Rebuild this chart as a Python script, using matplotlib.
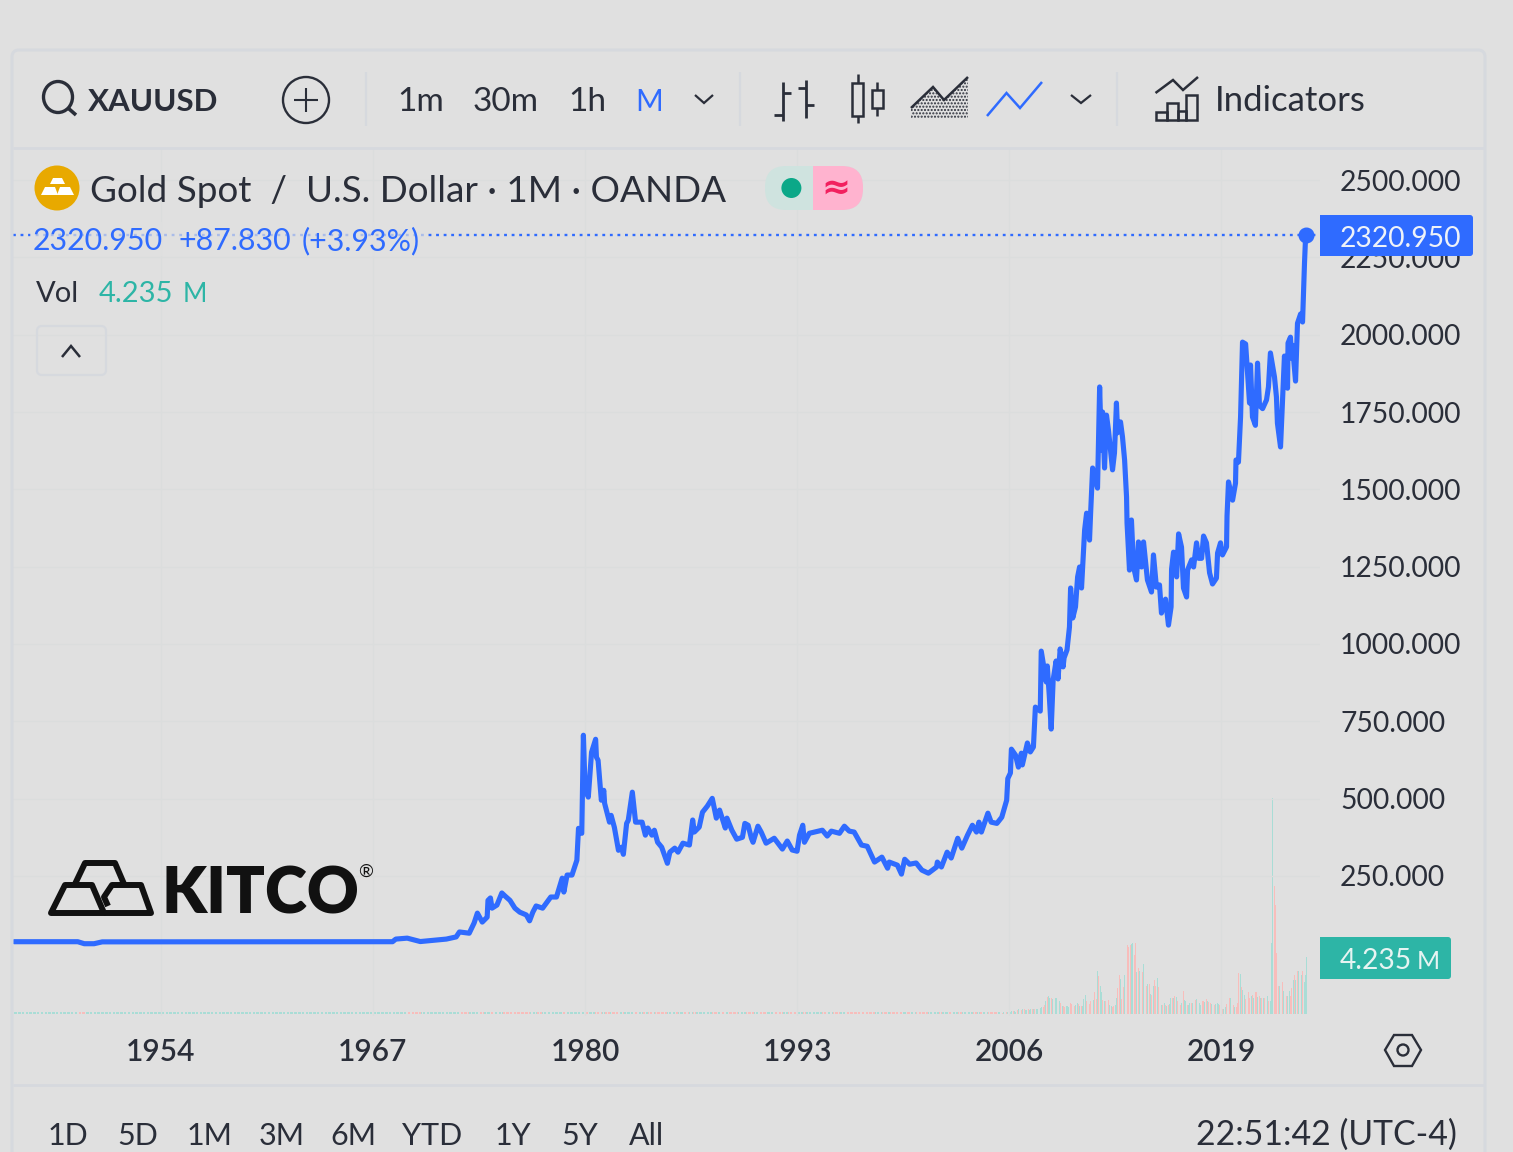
import numpy as np
import matplotlib
matplotlib.use("Agg")
import matplotlib.pyplot as plt
from matplotlib.patches import Polygon, Rectangle, FancyBboxPatch, Ellipse

plt.rcParams['font.family'] = ['Lato', 'DejaVu Sans']

# ---------- data ----------
price_years = [
    1945, 1948.9, 1949.3, 1949.9, 1950.4, 1968.2, 1968.4, 1969.1, 1969.9, 1971.5, 1972.1, 1972.3, 1972.9,
    1973.2, 1973.4, 1973.7, 1974.0, 1974.05, 1974.2, 1974.3, 1974.6, 1974.9, 1975.1, 1975.4, 1975.7, 1976.0,
    1976.4, 1976.6, 1976.8, 1977.0, 1977.4, 1977.9, 1978.25, 1978.6, 1978.7, 1978.9, 1979.2, 1979.5, 1979.6,
    1979.8, 1979.9, 1980.0, 1980.2, 1980.4, 1980.65, 1980.7, 1980.8, 1981.0, 1981.15, 1981.2, 1981.5, 1981.6,
    1981.8, 1982.05, 1982.25, 1982.35, 1982.55, 1982.65, 1982.9, 1983.1, 1983.5, 1983.7, 1983.85, 1984.1,
    1984.25, 1984.45, 1984.7, 1985.05, 1985.2, 1985.5, 1985.7, 1986.0, 1986.4, 1986.6, 1986.7, 1987.0, 1987.2,
    1987.5, 1987.8, 1988.05, 1988.25, 1988.6, 1988.7, 1989.0, 1989.3, 1989.65, 1989.8, 1990.0, 1990.2, 1990.3,
    1990.6, 1990.8, 1991.1, 1991.6, 1992.1, 1992.4, 1992.7, 1993.0, 1993.15, 1993.35, 1993.45, 1993.75, 1994.55,
    1994.85, 1995.1, 1995.6, 1995.9, 1996.2, 1996.5, 1996.95, 1997.3, 1997.75, 1998.2, 1998.55, 1998.65, 1999.15,
    1999.4, 1999.6, 1999.9, 2000.3, 2000.65, 2001.05, 2001.55, 2001.6, 2001.85, 2002.2, 2002.45, 2002.85, 2003.1,
    2003.45, 2003.75, 2004.0, 2004.15, 2004.3, 2004.7, 2004.9, 2005.25, 2005.55, 2005.85, 2005.92, 2006.08, 2006.14,
    2006.39, 2006.57, 2006.75, 2006.81, 2007.12, 2007.3, 2007.49, 2007.61, 2007.91, 2007.97, 2008.28, 2008.34,
    2008.46, 2008.58, 2008.7, 2008.88, 2009.0, 2009.13, 2009.31, 2009.37, 2009.55, 2009.7, 2009.77, 2009.9,
    2010.07, 2010.2, 2010.32, 2010.44, 2010.63, 2010.75, 2010.93, 2011.0, 2011.12, 2011.42, 2011.55, 2011.66,
    2011.73, 2011.85, 2011.97, 2012.09, 2012.34, 2012.46, 2012.58, 2012.65, 2012.83, 2012.95, 2013.08, 2013.2,
    2013.23, 2013.38, 2013.5, 2013.63, 2013.81, 2013.93, 2014.12, 2014.24, 2014.48, 2014.73, 2014.85, 2015.03,
    2015.22, 2015.34, 2015.59, 2015.77, 2015.93, 2015.96, 2016.08, 2016.27, 2016.39, 2016.57, 2016.69, 2016.88,
    2016.94, 2017.19, 2017.31, 2017.49, 2017.62, 2017.8, 2017.92, 2018.1, 2018.29, 2018.47, 2018.71, 2018.78,
    2018.96, 2019.08, 2019.33, 2019.36, 2019.45, 2019.7, 2019.88, 2019.91, 2020.06, 2020.19, 2020.31, 2020.5,
    2020.74, 2020.8, 2020.92, 2021.1, 2021.23, 2021.35, 2021.54, 2021.78, 2021.9, 2022.02, 2022.27, 2022.39,
    2022.45, 2022.64, 2022.88, 2023.07, 2023.1, 2023.25, 2023.31, 2023.37, 2023.56, 2023.68, 2023.87, 2023.99,
    2024.11, 2024.18]
price_values = [
    37.5, 37.5, 31, 31, 37, 37.5, 46, 49, 38, 46, 53, 69, 65,
    98, 130, 101, 117, 171, 179, 146, 156, 195, 185, 171, 146, 133,
    124, 105, 133, 153, 146, 182, 182, 243, 198, 253, 253, 301, 404,
    388, 705, 537, 505, 650, 692, 634, 624, 495, 527, 485, 424, 446,
    407, 333, 343, 320, 420, 430, 521, 424, 424, 382, 405, 382,
    398, 359, 343, 291, 327, 340, 327, 356, 350, 431, 392, 408, 456,
    476, 501, 437, 463, 405, 437, 398, 369, 375, 420, 414, 372, 359,
    411, 392, 356, 372, 337, 363, 334, 330, 382, 414, 359, 388, 398,
    379, 395, 388, 411, 395, 392, 350, 346, 295, 311, 275, 295, 285,
    256, 304, 288, 292, 269, 259, 279, 295, 279, 327, 308, 372, 340,
    382, 414, 392, 424, 392, 453, 424, 420, 440, 495, 565, 583, 660,
    641, 602, 647, 609, 680, 651, 667, 796, 783, 977, 877,
    929, 835, 725, 884, 945, 887, 984, 926, 955, 981, 1055, 1181, 1084,
    1120, 1217, 1249, 1181, 1369, 1423, 1336, 1427, 1569, 1504, 1831, 1627,
    1750, 1569, 1740, 1692, 1563, 1618, 1779, 1683, 1718, 1670, 1595, 1475,
    1391, 1239, 1401, 1249, 1207, 1330, 1249, 1330, 1207, 1168, 1288, 1184,
    1191, 1100, 1145, 1061, 1120, 1242, 1297, 1217, 1356, 1313, 1181, 1152,
    1239, 1272, 1249, 1327, 1277, 1277, 1349, 1327, 1230, 1194, 1213, 1294,
    1327, 1288, 1314, 1414, 1524, 1465, 1520, 1595, 1588, 1734, 1976, 1970,
    1779, 1902, 1734, 1707, 1908, 1771, 1761, 1789, 1831, 1941, 1863, 1798,
    1714, 1637, 1931, 1827, 1973, 1992, 1924, 1966, 1850, 2037, 2067, 2041,
    2232, 2320.95]

volume_millions = [
    .12, .1, .1, .12, .12, .15, .15, .12, .15, .2,
    .2, .2, .15, .3, .35, .35, .3, .35, .35, .3,
    .3, .35, .3, .35, .4, .4, .35, .4, .4, .42,
    .45, .5, .55, .7, 1.0, 1.25, 1.35, 1.2, 1.15, 1.1,
    1.2, 1.15, 1.2, .9, .95, .8, .6, .6, .55, .6,
    .6, .55, .8, .75, .75, .6, .7, .85, .75, .6,
    .6, .6, 1.1, 1.4, 1.0, .85, .75, 1.0, 1.1, 1.05,
    1.65, 1.1, 3.2, 2.85, 2.1, 1.6, 1.05, .95, 1.0, .6,
    1.05, .7, .6, .55, .62, .65, 1.15, 1.95, 2.9, 2.6,
    1.1, 2.0, 2.9, 2.6, 5.1, 5.0, 5.1, 5.2, 5.25, 4.4,
    5.25, 3.1, 3.4, 3.2, 2.85, 3.1, 3.7, 2.2, 2.1, 2.2,
    2.2, 1.5, 1.4, 2.05, 2.55, 2.1, 2.7, 2.0, .8, .7,
    .65, .8, .65, .6, .65, .75, 1.2, 1.15, 1.2, 1.3,
    1.25, 1.0, .85, .7, .85, 1.7, 1.05, .95, .7, .65,
    .8, .85, .8, .7, 1.05, 1.1, .85, .8, .7, 1.0,
    1.0, .9, 1.1, .95, .9, .85, .75, .75, .65, .75,
    .85, .75, .65, .4, .35, .4, .55, .75, .7, 1.2,
    1.2, .95, .65, .55, .5, .85, 3.05, 2.95, 2.0, 1.75,
    1.4, 1.1, 2.15, 1.65, 1.2, 1.3, 1.4, 1.15, 1.6, 1.65,
    1.25, 1.3, 1.15, 1.2, 1.15, 1.2, 1.1, 1.3, 1.0, .95,
    5.3, 16.0, 9.5, 8.1, 4.5, 2.1, 2.05, 2.3, 2.35, 1.7,
    1.7, 1.35, 1.3, 1.7, 1.35, 1.95, 2.5, 2.9, 2.5, 3.2,
    3.2, 3.2, 2.9, 3.2, 2.4, 2.9, 4.235]
volume_up = [
    1, 1, 0, 1, 1, 0, 1, 0, 1, 1,
    0, 1, 1, 0, 1, 1, 0, 1, 0, 1,
    1, 0, 1, 1, 0, 1, 0, 1, 1, 0,
    1, 1, 0, 0, 1, 0, 1, 1, 0, 1,
    0, 1, 1, 0, 1, 0, 1, 0, 0, 1,
    1, 1, 0, 0, 1, 0, 1, 1, 0, 1,
    0, 1, 1, 1, 0, 1, 0, 0, 1, 1,
    0, 0, 1, 0, 1, 1, 0, 1, 0, 0,
    0, 1, 1, 0, 0, 1, 1, 0, 0, 1,
    0, 0, 1, 0, 0, 0, 0, 1, 1, 0,
    0, 1, 0, 1, 1, 0, 1, 1, 0, 1,
    0, 1, 0, 1, 0, 0, 1, 0, 0, 1,
    0, 1, 0, 1, 0, 1, 1, 0, 1, 0,
    1, 0, 1, 0, 1, 0, 1, 1, 0, 1,
    1, 0, 1, 1, 0, 1, 0, 1, 1, 0,
    0, 1, 0, 1, 0, 0, 1, 0, 0, 1,
    1, 1, 0, 0, 0, 1, 1, 0, 1, 0,
    1, 1, 0, 1, 0, 0, 0, 1, 0, 1,
    1, 0, 1, 0, 0, 1, 0, 1, 0, 0,
    1, 0, 1, 0, 1, 0, 0, 1, 0, 1,
    1, 1, 0, 0, 0, 0, 1, 0, 0, 1,
    1, 0, 1, 1, 0, 0, 1, 0, 1, 0,
    1, 0, 1, 0, 1, 1, 1]
early_volume_million = 0.13
last_volume_year = 2024.25

year_ticks = [1954, 1967, 1980, 1993, 2006, 2019]
price_ticks = [250, 500, 750, 1000, 1250, 1500, 1750, 2000, 2250, 2500]
price_labels = ['250.000', '500.000', '750.000', '1000.000', '1250.000', '1500.000',
                '1750.000', '2000.000', '2250.000', '2500.000']
last_price = 2320.95
range_buttons = ['1D', '5D', '1M', '3M', '6M', 'YTD', '1Y', '5Y', 'All']
range_x = [48, 117, 187, 259, 330, 402, 495, 561, 629]

# ---------- colours ----------
BG = '#e0e0e0'
INK = '#2a2e39'
BLUE = '#2f6bff'
TEAL = '#2db5a6'
BORDER = '#d6d9de'
GRID = '#dbdddd'
VOL_UP = '#a9ddd6'
VOL_DOWN = '#f8bdbb'

W, H = 1513, 1152
fig = plt.figure(figsize=(W / 100, H / 100), dpi=100, facecolor=BG)

# main chart axes: pixels 13..1320 horizontally, 148..1016 vertically
pos = [13 / W, 1 - 1016 / H, (1320 - 13) / W, (1016 - 148) / H]
ax_vol = fig.add_axes(pos, facecolor=BG)
ax = fig.add_axes(pos, facecolor='none')
ax_vol.set_zorder(1)
ax.set_zorder(2)

x_left, x_right = 1944.93, 2025.06
ax.set_xlim(x_left, x_right)
ax.set_ylim(-202.7, 2603.6)
ax_vol.set_xlim(x_left, x_right)
ax_vol.set_ylim(-0.15, 64.3)
ax_vol.set_xticks([])
ax_vol.set_yticks([])

for a in (ax, ax_vol):
    for s in a.spines.values():
        s.set_visible(False)

ax.set_xticks(year_ticks)
ax.set_xticklabels([str(y) for y in year_ticks], fontsize=21.5, color=INK, fontweight='semibold')
ax.tick_params(axis='x', length=0, pad=15.5)
ax.yaxis.tick_right()
ax.set_yticks(price_ticks)
ax.set_yticklabels(price_labels, fontsize=20.3, color=INK)
ax.tick_params(axis='y', length=0, pad=14.4)
ax.grid(True, color=GRID, lw=1)
ax.set_axisbelow(True)

# volume: one bar a month, counted back from the last month
vol_years = last_volume_year - np.arange(len(volume_millions) - 1, -1, -1) / 12
vol_colors = [VOL_UP if u else VOL_DOWN for u in volume_up]
ax_vol.bar(vol_years, volume_millions, width=0.055, color=vol_colors, lw=0)

early_years = np.arange(1945, vol_years[0], 1 / 12)
early_prices = np.interp(early_years, price_years, price_values)
early_colors = [VOL_DOWN if d < 0 else VOL_UP for d in np.diff(early_prices, prepend=early_prices[0])]
ax_vol.bar(early_years, early_volume_million, width=0.055, color=early_colors, lw=0)

# price
ax.plot(price_years, price_values, color=BLUE, lw=3.7, solid_joinstyle='round', solid_capstyle='round', zorder=4)
ax.axhline(last_price, color=BLUE, lw=1.7, dashes=(1.2, 2.0), zorder=3)
ax.plot(price_years[-1:], price_values[-1:], 'o', color=BLUE, ms=10.5, zorder=5)

# overlay in pixel coordinates for the widget's chrome
ui = fig.add_axes([0, 0, 1, 1], facecolor='none')
ui.set_zorder(5)
ui.set_xlim(0, W)
ui.set_ylim(H, 0)
ui.axis('off')


def T(x, y, s, size, color=INK, ha='left', weight='normal', **kw):
    ui.text(x, y, s, fontsize=size, color=color, ha=ha, va='baseline', fontweight=weight, **kw)


def L(xs, ys, color=INK, lw=1.6, **kw):
    ui.plot(xs, ys, color=color, lw=lw, solid_capstyle=kw.pop('cap', 'butt'), solid_joinstyle='miter', **kw)


# panel frame
ui.add_patch(FancyBboxPatch((12, 50), 1473, 1200, boxstyle='round,pad=0,rounding_size=7', fc='none', ec=BORDER, lw=2.2))
L([13, 1484], [148, 148], BORDER, 2)
L([13, 1484], [1085, 1085], BORDER, 2)
for vx in (366, 740, 1117):
    L([vx, vx], [72, 126], BORDER, 1.6)

# toolbar: search, symbol, add
ui.add_patch(Ellipse((58, 97), 29, 31, fc='none', ec=INK, lw=2.4))
L([68, 76], [108, 115], INK, 2.6)
T(88, 111, 'XAUUSD', 22.6, weight='bold')
ui.add_patch(Ellipse((306, 100), 46, 46, fc='none', ec=INK, lw=1.7))
L([294, 318], [100, 100], INK, 1.5)
L([306, 306], [88, 112], INK, 1.5)
T(397, 111, '1m', 24)
T(473, 111, '30m', 24)
T(568, 111, '1h', 24)
T(635, 111, 'M', 21.5, color=BLUE)
L([695, 704, 713], [95, 103, 95], INK, 1.6)

# toolbar: chart type icons
L([783, 783], [82, 121], INK, 2)
L([774, 783], [115, 115], INK, 2)
L([783, 791], [93, 93], INK, 2)
L([806, 806], [80, 118], INK, 2)
L([798, 806], [88, 88], INK, 2)
L([806, 814], [105, 105], INK, 2)
L([857.5, 857.5], [74, 123], INK, 1.8)
ui.add_patch(Rectangle((852, 83), 11, 33, fc=BG, ec=INK, lw=1.8, zorder=3))
L([877, 877], [82, 116], INK, 1.8)
ui.add_patch(Rectangle((872, 90), 10.5, 18, fc=BG, ec=INK, lw=1.8, zorder=3))
ui.add_patch(Polygon([(911, 118), (911, 108), (933, 87), (944, 100), (968, 77), (968, 118)],
                     closed=True, fc='none', ec=INK, hatch='.....', lw=0))
L([911, 933, 944, 968], [108, 87, 100, 77], INK, 1.8)
L([987, 1006.5, 1020, 1042], [116, 93, 108, 82], BLUE, 1.8)
L([1071, 1081, 1091], [95, 103, 95], INK, 1.6)

# toolbar: indicators
L([1155.5, 1173, 1183, 1198], [93, 80, 90, 77], INK, 1.8)
ui.add_patch(Rectangle((1156, 112), 11, 8, fc='none', ec=INK, lw=1.8))
ui.add_patch(Rectangle((1167, 103), 11, 17, fc='none', ec=INK, lw=1.8))
ui.add_patch(Rectangle((1178, 111), 8, 9, fc='none', ec=INK, lw=1.8))
ui.add_patch(Rectangle((1186, 95), 11, 25, fc='none', ec=INK, lw=1.8))
T(1215, 111, 'Indicators', 25)

# title with gold badge
ui.add_patch(Ellipse((57, 188), 45, 45, fc='#e8a900', ec='none'))
for pts in ([(53, 178), (62, 178), (65, 184), (50, 184)],
            [(45, 187), (55, 187), (58, 195), (41, 195)],
            [(60, 187), (70, 187), (74, 195), (57, 195)]):
    ui.add_patch(Polygon(pts, closed=True, fc='white', ec='none'))
T(90, 202, 'Gold Spot  /  U.S. Dollar · 1M · OANDA', 26.6)

# status pill
ui.add_patch(FancyBboxPatch((765, 166), 98, 44, boxstyle='round,pad=0,rounding_size=21', fc='#cfe3df', ec='none'))
clip = Rectangle((813, 160), 55, 56, transform=ui.transData)
pink = FancyBboxPatch((765, 166), 98, 44, boxstyle='round,pad=0,rounding_size=21', fc='#ffb3cf', ec='none')
ui.add_patch(pink)
pink.set_clip_path(clip)
ui.add_patch(Ellipse((791.4, 188), 20, 20, fc='#0ba888', ec='none'))
T(836, 199, '≈', 25, color='#f2205f', ha='center', weight='bold', family=['DejaVu Sans'])

# legend rows
ui.add_patch(Rectangle((30, 222), 396, 34, fc=BG, ec='none', alpha=0.7))
T(33, 250, '2320.950', 21.9, color=BLUE)
T(178, 250, '+87.830', 21.9, color=BLUE)
T(302, 250, '(+3.93%)', 21.9, color=BLUE)
T(36, 302, 'Vol', 21)
T(99, 302, '4.235', 21, color=TEAL)
T(183, 302, 'M', 19, color=TEAL)
ui.add_patch(FancyBboxPatch((37, 326), 69, 49, boxstyle='round,pad=0,rounding_size=5', fc='none', ec=BORDER, lw=1.6))
L([62, 71, 80], [357, 346, 357], INK, 1.8)

# value flags on the price scale
ui.add_patch(FancyBboxPatch((1320, 215), 153, 41, boxstyle='round,pad=0,rounding_size=3', fc=BLUE, ec='none'))
ui.add_patch(Rectangle((1320, 215), 10, 41, fc=BLUE, ec='none'))
T(1340, 247, '2320.950', 20.3, color='#eef2f8')
ui.add_patch(FancyBboxPatch((1320, 937), 131, 42, boxstyle='round,pad=0,rounding_size=3', fc=TEAL, ec='none'))
ui.add_patch(Rectangle((1320, 937), 10, 42, fc=TEAL, ec='none'))
T(1340, 969, '4.235', 20.3, color='#e6f4f2')
T(1417, 969, 'M', 18, color='#e6f4f2')

# settings hexagon
ui.add_patch(Polygon([(1385, 1050), (1394, 1035), (1412, 1035), (1421, 1050), (1412, 1066), (1394, 1066)],
                     closed=True, fc='none', ec=INK, lw=1.7))
ui.add_patch(Ellipse((1403, 1050), 11, 11, fc='none', ec=INK, lw=1.7))

# range row
for label, x in zip(range_buttons, range_x):
    T(x, 1145, label, 22)
T(1457, 1145, '22:51:42 (UTC-4)', 24.3, ha='right')

# Kitco mark
LOGO = '#111111'
for pts, closed in (([(51, 913), (65, 885), (92, 885), (104, 913)], True),
                    ([(104, 913), (151, 913), (141, 885), (112, 885), (104, 897), (108, 906)], False),
                    ([(75, 884), (85, 863), (115, 863), (124, 884)], False)):
    ui.add_patch(Polygon(pts, closed=closed, fc='none', ec=LOGO, lw=4.3, joinstyle='round'))
T(161, 914, 'KITCO', 46, color=LOGO, weight='heavy')
T(366, 877, '®', 13, color=LOGO, ha='center')

fig.savefig('out.png', dpi=100, facecolor=BG)
